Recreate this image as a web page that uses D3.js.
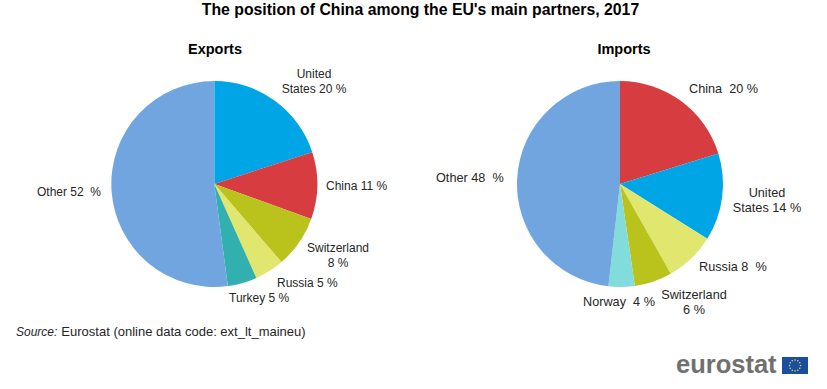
<!DOCTYPE html>
<html>
<head>
<meta charset="utf-8">
<script src="https://cdn.jsdelivr.net/npm/d3@7"></script>
<style>
    html, body { margin: 0; padding: 0; background: #fff; }
    svg { display: block; font-family: "Liberation Sans", Arial, sans-serif; }
</style>
</head>
<body>
<div id="chart"></div>
<script>
const exportNames = ["United States", "China", "Switzerland", "Russia", "Turkey", "Other"];
const exportValues = [20.0, 10.5, 8.2, 4.6, 4.6, 52.1];
const exportLabels = [["United", "States 20 %"], ["China 11 %"], ["Switzerland", "8 %"], ["Russia 5 %"], ["Turkey 5 %"], ["Other 52  %"]];

const importNames = ["China", "United States", "Russia", "Switzerland", "Norway", "Other"];
const importValues = [20.2, 13.7, 7.9, 5.9, 4.1, 48.2];
const importLabels = [["China  20 %"], ["United", "States 14 %"], ["Russia 8  %"], ["Switzerland", "6 %"], ["Norway  4 %"], ["Other 48  %"]];

const colors = {
    "United States": "#00a5e6",
    "China": "#d73c41",
    "Switzerland": "#b9c31c",
    "Russia": "#e1e66e",
    "Turkey": "#32afaf",
    "Norway": "#82dcdc",
    "Other": "#70a5e0"
};

// label anchor points, one per slice
const exportLabelPos = [[314, 78, "middle"], [326, 190, "start"], [338, 252, "middle"], [277, 287, "start"], [229, 302, "start"], [37, 196, "start"]];
const importLabelPos = [[689, 93, "start"], [767, 197, "middle"], [699, 271, "start"], [694, 299, "middle"], [583, 306, "start"], [436, 182, "start"]];

const width = 827;
const height = 389;
const radius = 103;

const svg = d3.select("#chart").append("svg")
    .attr("width", width)
    .attr("height", height);

svg.append("text")
    .attr("x", 420.5)
    .attr("y", 15)
    .attr("text-anchor", "middle")
    .attr("font-weight", "bold")
    .style("font-size", "15.8px")
    .text("The position of China among the EU's main partners, 2017");

function drawPie(title, titleX, cx, names, values, labels, labelPos, labelSize) {
    svg.append("text")
        .attr("x", titleX)
        .attr("y", 54)
        .attr("text-anchor", "middle")
        .attr("font-weight", "bold")
        .style("font-size", "14.5px")
        .text(title);

    const pie = d3.pie().sort(null);
    const arc = d3.arc().innerRadius(0).outerRadius(radius);

    svg.append("g")
        .attr("transform", "translate(" + cx + ",184)")
        .selectAll("path")
        .data(pie(values))
        .enter().append("path")
        .attr("d", arc)
        .attr("fill", (d, i) => colors[names[i]]);

    labels.forEach((lines, i) => {
        const p = labelPos[i];
        const t = svg.append("text")
            .attr("text-anchor", p[2])
            .attr("fill", "#262626")
            .style("font-size", labelSize + "px");
        lines.forEach((line, j) => {
            t.append("tspan")
                .attr("x", p[0])
                .attr("y", p[1] + j * 14.5)
                .style("white-space", "pre")
                .text(line);
        });
    });
}

drawPie("Exports", 215, 214.3, exportNames, exportValues, exportLabels, exportLabelPos, 12);
drawPie("Imports", 624, 620, importNames, importValues, importLabels, importLabelPos, 12.7);

// Source note
const source = svg.append("text")
    .attr("x", 16)
    .attr("y", 336)
    .attr("fill", "#262626")
    .style("font-size", "13px");
source.append("tspan").attr("font-style", "italic").style("font-size", "12px").text("Source:");
source.append("tspan").attr("dx", 4).text("Eurostat (online data code: ext_lt_maineu)");

// Logo
svg.append("text")
    .attr("x", 676)
    .attr("y", 373)
    .attr("fill", "#707070")
    .attr("font-weight", "bold")
    .style("font-size", "25.5px")
    .text("eurostat");

svg.append("rect")
    .attr("x", 782)
    .attr("y", 357)
    .attr("width", 26)
    .attr("height", 17)
    .attr("fill", "#1a4f9f");

svg.append("g")
    .selectAll("circle")
    .data(d3.range(12))
    .enter().append("circle")
    .attr("cx", d => 795 + 5.5 * Math.sin(d * Math.PI / 6))
    .attr("cy", d => 365.5 - 5.5 * Math.cos(d * Math.PI / 6))
    .attr("r", 0.8)
    .attr("fill", "#e8d93a");
</script>
</body>
</html>
